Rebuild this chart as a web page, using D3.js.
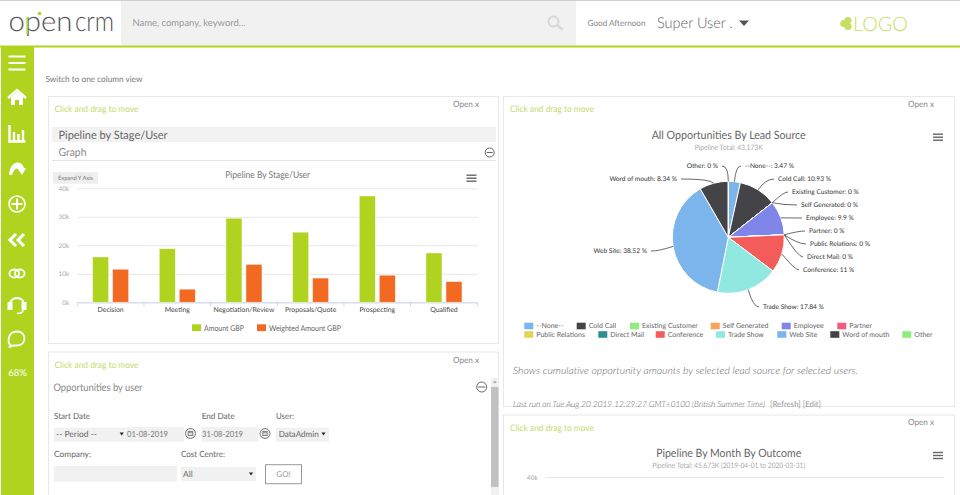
<!DOCTYPE html>
<html>
<head>
<meta charset="utf-8">
<title>OpenCRM dashboard</title>
<script src="https://cdn.jsdelivr.net/npm/d3@7"></script>
<style>
  html, body { margin: 0; padding: 0; background: #fff; overflow: hidden; }
  svg { display: block; }
  text { font-family: Lato, "Open Sans", sans-serif; text-rendering: geometricPrecision; }
</style>
</head>
<body>
<div id="chart"></div>
<script>
// bar chart values
const stages = ["Decision", "Meeting", "Negotiation/Review", "Proposals/Quote", "Prospecting", "Qualified"];
const amountGBP = [15900, 18800, 29500, 24600, 37300, 17300];
const weightedGBP = [11600, 4600, 13300, 8500, 9500, 7250];
const barSeries = ["Amount GBP", "Weighted Amount GBP"];
const barTicks = [0, 10000, 20000, 30000, 40000];

// pie values
const sources = ["--None--", "Cold Call", "Existing Customer", "Self Generated", "Employee", "Partner",
  "Public Relations", "Direct Mail", "Conference", "Trade Show", "Web Site", "Word of mouth", "Other"];
const sharePct = [3.47, 10.93, 0, 0, 9.9, 0, 0, 0, 11, 17.84, 38.52, 8.34, 0];
const sourceColors = ["#7cb5ec", "#434348", "#90ed7d", "#f7a35c", "#8085e9", "#f15c80",
  "#e4d354", "#2b908f", "#f45b5b", "#91e8e1", "#7cb5ec", "#434348", "#90ed7d"];

const conf = {
  width: 960,
  height: 495,
  green: "#afd31f",
  orange: "#f26a21",
  border: "#e8e8e8",
  barLeft: 77.3, barRight: 477.3, barTop: 188.3, barBottom: 302.3,
  pieX: 728.3, pieY: 237.3, pieR: 56,
};

// where the pie labels sit, same order as sources
const pieLabelX = [745, 778, 792, 801, 806, 809, 810, 807, 803, 763, 647, 677, 718];
const pieLabelY = [166, 179, 192, 205, 218, 231, 244, 257, 270, 307, 251, 179, 166];
// legend slots under the pie, same order as sources
const pieLegendX = [524.3, 576.7, 630, 710.7, 781.7, 837.3, 524.3, 598.3, 655.7, 716, 777.3, 830.3, 902.3];
const pieLegendY = [326, 326, 326, 326, 326, 326, 334.5, 334.5, 334.5, 334.5, 334.5, 334.5, 334.5];

const svg = d3.select("#chart").append("svg")
  .attr("width", conf.width)
  .attr("height", conf.height)
  .attr("viewBox", [0, 0, conf.width, conf.height]);

function label(x, y, str, size, color, anchor, width) {
  const t = svg.append("text")
    .attr("x", x).attr("y", y)
    .attr("dy", "0.35em")
    .attr("font-size", size)
    .attr("fill", color || "#666")
    .attr("text-anchor", anchor || "start")
    .text(str);
  if (width) t.attr("textLength", width).attr("lengthAdjust", "spacingAndGlyphs");
  return t;
}
function box(x, y, w, h, fill, stroke) {
  return svg.append("rect")
    .attr("x", x).attr("y", y).attr("width", w).attr("height", h)
    .attr("fill", fill || "none")
    .attr("stroke", stroke || "none");
}
function burger(x, y) {
  [0, 3, 6].forEach(d => box(x, y + d, 10, 1.4, "#666"));
}
function minusCircle(x, y, r) {
  svg.append("circle").attr("cx", x).attr("cy", y).attr("r", r).attr("fill", "none").attr("stroke", "#666");
  svg.append("line").attr("x1", x - r + 1.5).attr("x2", x + r - 1.5).attr("y1", y).attr("y2", y).attr("stroke", "#666");
}
function downArrow(x, y) {
  svg.append("path").attr("d", `M${x - 2},${y - 1.5}h4l-2,3z`).attr("fill", "#222");
}
function calendar(x, y) {
  svg.append("circle").attr("cx", x).attr("cy", y).attr("r", 5).attr("fill", "#eee").attr("stroke", "#777");
  box(x - 2.7, y - 2.5, 5.4, 5, "#888");
  box(x - 1.7, y - 0.8, 3.4, 2.3, "#ddd");
}

function drawHeader() {
  box(0, 0, 960, 1, "#cfcfcf");
  box(121, 1, 455, 44.5, "#f1f1f1");
  box(0, 45.5, 960, 2, conf.green);

  // logo
  label(8.5, 21.5, "open", 28, "#555", "start", 64).attr("font-weight", 300);
  label(75, 21.5, "crm", 28, "#555", "start", 39).attr("font-weight", 300);
  box(26.5, 17, 1.6, 17, conf.green);
  svg.append("circle").attr("cx", 39.5).attr("cy", 13.5).attr("r", 1.8).attr("fill", conf.green);

  label(132.5, 23, "Name, company, keyword...", 9.5, "#999", "start", 113);
  svg.append("circle").attr("cx", 553.5).attr("cy", 21.5).attr("r", 5).attr("fill", "none").attr("stroke", "#d8d8d8").attr("stroke-width", 2);
  svg.append("line").attr("x1", 557).attr("y1", 25).attr("x2", 562.5).attr("y2", 29.5).attr("stroke", "#d8d8d8").attr("stroke-width", 2.5);

  label(587.5, 23, "Good Afternoon", 8.5, "#888", "start", 58);
  label(657, 22.5, "Super User .", 15, "#666", "start", 76).attr("font-weight", 300);
  svg.append("path").attr("d", "M739,20.5h10l-5,5.5z").attr("fill", "#555");

  // placeholder company logo
  [[848, 20.5], [848, 26.5], [843.8, 23.5]].forEach(d => {
    svg.append("circle").attr("cx", d[0]).attr("cy", d[1]).attr("r", 3.6).attr("fill", "#c5de66");
  });
  label(853, 23.5, "LOGO", 20, "#c5de66", "start", 55).attr("font-weight", 300);
}

function drawSidebar() {
  box(1, 47, 33, 448, conf.green);
  const g = svg.append("g").attr("fill", "none").attr("stroke", "#fff").attr("stroke-width", 2);
  [56.5, 63, 69.5].forEach(y => g.append("line").attr("x1", 8.5).attr("x2", 25.5).attr("y1", y).attr("y2", y));
  // home
  g.append("path").attr("d", "M8,98L17,90L26,98").attr("stroke-width", 2.4);
  g.append("path").attr("d", "M11,97v8h4v-5h4v5h4v-8L17,92z").attr("fill", "#fff").attr("stroke", "none");
  // bars
  g.append("path").attr("d", "M9.5,125v16.5h16M14,141v-9M18.5,141v-7M23,141v-11").attr("stroke-width", 2.4);
  // return arrow
  g.append("path").attr("d", "M9,175c1,-14 12,-16 15,-7l-5,2c-2,-3 -5,-1 -7,5z").attr("fill", "#fff").attr("stroke", "none");
  g.append("path").attr("d", "M17,168h9l-4,7z").attr("fill", "#fff").attr("stroke", "none");
  // plus
  g.append("circle").attr("cx", 17).attr("cy", 204).attr("r", 8).attr("stroke-width", 1.6);
  g.append("path").attr("d", "M11.5,204h11M17,198.5v11");
  // chevrons
  g.append("path").attr("d", "M16,234l-6,6l6,6M24,234l-6,6l6,6").attr("stroke-width", 3);
  // rings
  g.append("ellipse").attr("cx", 14.2).attr("cy", 273.5).attr("rx", 4.8).attr("ry", 4).attr("stroke-width", 1.8);
  g.append("ellipse").attr("cx", 19.8).attr("cy", 273.5).attr("rx", 4.8).attr("ry", 4).attr("stroke-width", 1.8);
  // headset
  g.append("path").attr("d", "M10,307v-3a7,6 0 0 1 14,0v3");
  g.append("path").attr("d", "M8.5,303h3v6h-3zM22.5,303h3v6h-3z").attr("fill", "#fff");
  g.append("path").attr("d", "M23,310c0,3 -3,3.5 -6,3.5").attr("stroke-width", 1.4);
  // speech bubble
  g.append("path").attr("d", "M11,345.5c-4,-3 -3.5,-14 6,-14c10,0 10,14 0,14c-2,0 -3,0 -4,0l-4,2z").attr("stroke-width", 1.8);

  label(17.5, 373, "68%", 9.5, "#fff", "middle");
}

function drawPanels() {
  label(45.5, 79, "Switch to one column view", 8.5, "#777", "start", 97);

  box(48.5, 96.5, 450, 247, "#fff", conf.border);
  box(503.5, 96.5, 451, 310, "#fff", conf.border);
  box(503.5, 415, 451, 90, "#fff", conf.border);
  box(48.5, 352, 450, 153, "#fff", conf.border);

  [[54.5, 109, 453, 104], [510, 109, 908, 104], [54.5, 365, 453, 360], [510, 427.7, 908, 422]].forEach(d => {
    label(d[0], d[1], "Click and drag to move", 9, "#c3dc6e", "start", 84);
    label(d[2], d[3], "Open x", 8.5, "#888", "start", 26);
  });

  box(52, 127, 444, 15, "#f2f2f2");
  label(58.5, 134.5, "Pipeline by Stage/User", 11.5, "#666", "start", 109);
  label(58.5, 152.5, "Graph", 11, "#888", "start", 28);
  box(52, 160, 444, 1, "#e5e5e5");
  minusCircle(489.7, 152.5, 4.5);
}

function drawBars() {
  const x0 = d3.scaleBand().domain(stages).range([conf.barLeft, conf.barRight]);
  const x1 = d3.scaleBand().domain(barSeries).range([15.33, 51.33]).paddingInner(0.2);
  const y = d3.scaleLinear().domain([0, 40000]).range([conf.barBottom, conf.barTop]);

  box(53, 172, 45, 11.7, "#eeeeee");
  label(75.5, 178, "Expand Y Axis", 6, "#777", "middle", 35);
  label(267.7, 175, "Pipeline By Stage/User", 9.5, "#777", "middle", 85);
  burger(466.5, 174.5);

  const yAxis = d3.axisLeft(y).tickValues(barTicks).tickSize(-(conf.barRight - conf.barLeft)).tickPadding(8)
    .tickFormat(d => d / 1000 + "k");
  const gy = svg.append("g").attr("transform", `translate(${conf.barLeft},0)`).call(yAxis);
  gy.select(".domain").remove();
  gy.selectAll("line").attr("stroke", "#e6e6e6");
  gy.selectAll("text").attr("fill", "#aaa").attr("font-size", 6.5).attr("font-family", "Lato");

  const gx = svg.append("g").attr("transform", `translate(0,${conf.barBottom})`)
    .call(d3.axisBottom(x0).tickSize(0).tickPadding(5));
  gx.select(".domain").attr("stroke", "#ccd6eb");
  gx.selectAll("text").attr("fill", "#444").attr("font-size", 6.9).attr("font-family", "Lato");
  [...stages.map(d => x0(d)), conf.barRight].forEach(d => {
    gx.append("line").attr("x1", d).attr("x2", d).attr("y1", 0).attr("y2", 4).attr("stroke", "#ccd6eb");
  });

  [amountGBP, weightedGBP].forEach((values, s) => {
    svg.append("g").selectAll("rect").data(values).join("rect")
      .attr("x", (d, i) => x0(stages[i]) + x1(barSeries[s]))
      .attr("width", x1.bandwidth())
      .attr("y", d => y(d))
      .attr("height", d => y(0) - y(d))
      .attr("fill", s === 0 ? conf.green : conf.orange)
      .attr("stroke", "#fff")
      .attr("stroke-opacity", 0.6)
      .attr("stroke-width", 0.7);
  });

  box(192, 324.3, 9, 6.8, conf.green);
  label(204, 328, barSeries[0], 8, "#666", "start", 40);
  box(257, 324.3, 9, 6.8, conf.orange);
  label(269, 328, barSeries[1], 8, "#666", "start", 72);
}

function drawPie() {
  label(728.7, 134.5, "All Opportunities By Lead Source", 11.5, "#666", "middle", 154);
  label(728.7, 147, "Pipeline Total: 43.173K", 7.5, "#aaa", "middle", 68);
  burger(933, 133.5);

  const pie = d3.pie().sort(null).value(d => d)(sharePct);
  const arc = d3.arc().innerRadius(0).outerRadius(conf.pieR);
  const g = svg.append("g").attr("transform", `translate(${conf.pieX},${conf.pieY})`);

  g.selectAll("path").data(pie).join("path")
    .attr("d", arc)
    .attr("fill", (d, i) => sourceColors[i])
    .attr("stroke", "#fff")
    .attr("stroke-width", 1);

  // connectors run from the slice edge out to the label
  pie.forEach((d, i) => {
    const a = (d.startAngle + d.endAngle) / 2;
    const sx = conf.pieR * Math.sin(a), sy = -conf.pieR * Math.cos(a);
    const cx = (conf.pieR + 14) * Math.sin(a);
    const lx = pieLabelX[i] - conf.pieX, ly = pieLabelY[i] - conf.pieY;
    const side = lx > 0 ? 1 : -1;
    const p = d3.path();
    p.moveTo(sx, sy);
    p.quadraticCurveTo(cx, ly, lx - side * 4, ly);
    g.append("path").attr("d", p.toString()).attr("fill", "none").attr("stroke", "#444").attr("stroke-width", 0.8);
    label(pieLabelX[i], pieLabelY[i], `${sources[i]}: ${sharePct[i]} %`, 6.6, "#333", side > 0 ? "start" : "end");
  });

  sources.forEach((s, i) => {
    box(pieLegendX[i], pieLegendY[i] - 3.3, 9, 6.6, sourceColors[i]);
    label(pieLegendX[i] + 12, pieLegendY[i], s, 7, "#666");
  });

  label(513, 370, "Shows cumulative opportunity amounts by selected lead source for selected users.", 10, "#666", "start", 345)
    .attr("font-style", "italic").attr("font-weight", 300);
  label(513, 404, "Last run on Tue Aug 20 2019 12:29:27 GMT+0100 (British Summer Time)", 8.5, "#666", "start", 252)
    .attr("font-style", "italic").attr("font-weight", 300);
  label(770, 404, "[Refresh] [Edit]", 8.5, "#999", "start", 51);
}

function drawMonthChart() {
  label(728.7, 452.7, "Pipeline By Month By Outcome", 11.5, "#666", "middle", 145);
  label(728.7, 465.7, "Pipeline Total: 45.673K (2019-04-01 to 2020-03-31)", 7.5, "#aaa", "middle", 153);
  burger(933, 451.8);
  const y = d3.scaleLinear().domain([0, 40000]).range([590, 477]);
  const gy = svg.append("g").attr("transform", "translate(545.7,0)")
    .call(d3.axisLeft(y).tickValues([40000]).tickSize(-398.6).tickPadding(8).tickFormat(d => d / 1000 + "k"));
  gy.select(".domain").remove();
  gy.selectAll("line").attr("stroke", "#e6e6e6");
  gy.selectAll("text").attr("fill", "#aaa").attr("font-size", 6.5).attr("font-family", "Lato");
}

function drawForm() {
  label(53.5, 387, "Opportunities by user", 10.5, "#888", "start", 89);
  minusCircle(481.7, 387, 5);

  box(491, 378, 7.5, 117, "#f1f1f1");
  box(491, 387, 7.5, 100, "#c1c1c1");
  svg.append("path").attr("d", "M494.8,380.5l-2,2.5h4z").attr("fill", "#aaa");

  label(54, 416, "Start Date", 8.5, "#666", "start", 36);
  label(201.7, 416, "End Date", 8.5, "#666", "start", 33);
  label(276, 416, "User:", 8.5, "#666", "start", 18);

  box(54, 427.7, 72.7, 14, "#f1f1f1");
  label(56, 434.5, "-- Period --", 8.5, "#666", "start", 41);
  downArrow(121.7, 434);
  box(126.7, 427, 57.3, 14.7, "#f1f1f1");
  label(127, 434.5, "01-08-2019", 8.5, "#777", "start", 41);
  calendar(190.5, 433.5);
  box(201.5, 427, 56.5, 14.7, "#f1f1f1");
  label(202, 434.5, "31-08-2019", 8.5, "#777", "start", 41);
  calendar(265, 433.5);
  box(276, 427.7, 53, 14, "#f1f1f1");
  label(278.7, 434.5, "DataAdmin", 8.5, "#666", "start", 40);
  downArrow(323.5, 434);

  label(54, 453.7, "Company:", 8.5, "#666", "start", 37);
  label(181, 453.7, "Cost Centre:", 8.5, "#666", "start", 44);
  box(54, 466, 123, 15.7, "#f1f1f1");
  box(181, 467, 75, 14, "#f1f1f1");
  label(183, 474, "All", 8.5, "#666");
  downArrow(251, 474);
  box(265.5, 464.7, 36, 19, "#fff", "#999");
  label(283.5, 474.2, "GO!", 8, "#999", "middle");
}

drawHeader();
drawSidebar();
drawPanels();
drawBars();
drawPie();
drawMonthChart();
drawForm();
</script>
</body>
</html>
